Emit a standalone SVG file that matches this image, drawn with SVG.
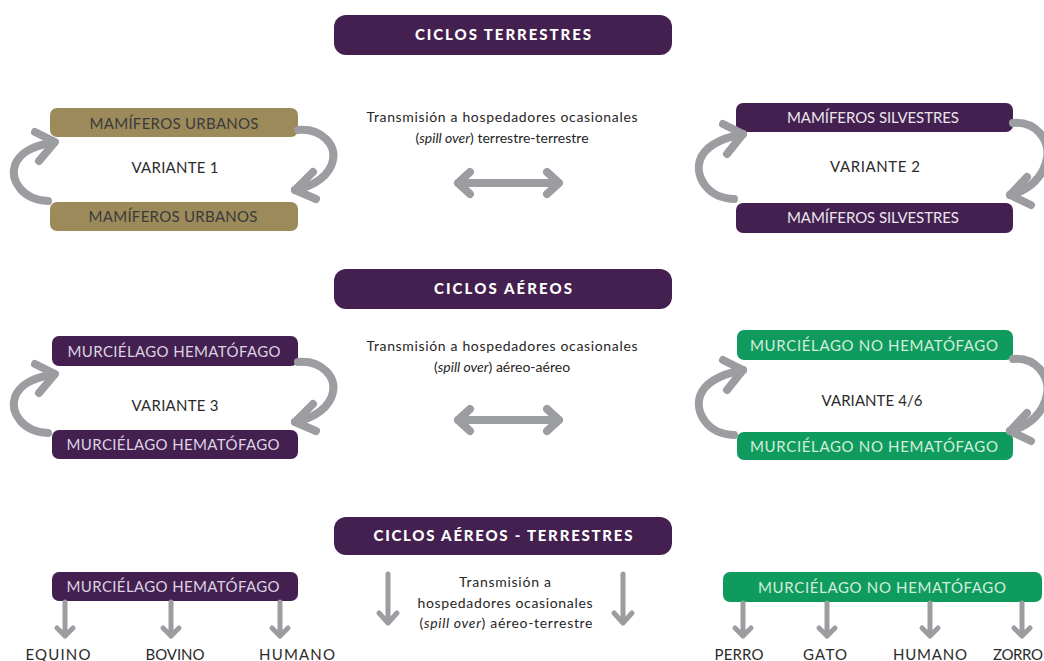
<svg xmlns="http://www.w3.org/2000/svg" width="1044" height="661" viewBox="0 0 1044 661">
<defs>
<style>
text{font-family:Lato,"Open Sans","Liberation Sans",sans-serif;font-size:14px;text-anchor:middle}
.title rect{fill:#43204f}
.title text{fill:#ffffff;font-weight:900;font-size:15px}
.olive rect{fill:#9c8a5b}
.olive text{fill:#3a3a3a;font-size:15px}
.purple rect{fill:#43204f}
.purple text{fill:#ddd3e2;font-size:15px}
.green rect{fill:#109b5e}
.green text{fill:#d3eedc;font-size:15px}
.lbl{fill:#2b2b2b;font-size:15px}
.host{fill:#2b2b2b;font-size:15px}
.mid{fill:#262626}
.arr{fill:none;stroke:#9c9da1;stroke-width:8;stroke-linecap:round;stroke-linejoin:round}
.arr2{fill:none;stroke:#9c9da1;stroke-width:5;stroke-linecap:round;stroke-linejoin:round}
</style>
</defs>
<rect width="1044" height="661" fill="#ffffff"/>

<g id="title-terrestres" class="title"><rect x="334" y="15" width="338" height="40" rx="12"/><text x="503" y="40" textLength="176">CICLOS TERRESTRES</text></g>
<g id="title-aereos" class="title"><rect x="334" y="269" width="338" height="40" rx="12"/><text x="503" y="294" textLength="138">CICLOS AÉREOS</text></g>
<g id="title-aereos-terrestres" class="title"><rect x="334" y="517" width="338" height="38" rx="12"/><text x="503" y="541" textLength="259">CICLOS AÉREOS - TERRESTRES</text></g>

<g id="urbanos-top" class="olive"><rect x="50" y="108" width="248" height="29" rx="7"/><text x="174" y="129" textLength="169">MAMÍFEROS URBANOS</text></g>
<g id="urbanos-bottom" class="olive"><rect x="50" y="202" width="248" height="29" rx="7"/><text x="173" y="222" textLength="169">MAMÍFEROS URBANOS</text></g>
<g id="variante1"><text class="lbl" x="175" y="173" textLength="87">VARIANTE 1</text></g>

<g id="silvestres-top" class="purple"><rect x="736" y="103" width="277" height="29" rx="7"/><text x="873" y="123" textLength="172" style="fill:#ece6ee">MAMÍFEROS SILVESTRES</text></g>
<g id="silvestres-bottom" class="purple"><rect x="736" y="203" width="277" height="30" rx="7"/><text x="873" y="223" textLength="172" style="fill:#ece6ee">MAMÍFEROS SILVESTRES</text></g>
<g id="variante2"><text class="lbl" x="875" y="172" textLength="90">VARIANTE 2</text></g>

<g id="hemat-top" class="purple"><rect x="52" y="336" width="246" height="30" rx="7"/><text x="174" y="357" textLength="213">MURCIÉLAGO HEMATÓFAGO</text></g>
<g id="hemat-bottom" class="purple"><rect x="52" y="430" width="246" height="29" rx="7"/><text x="173" y="450" textLength="213">MURCIÉLAGO HEMATÓFAGO</text></g>
<g id="variante3"><text class="lbl" x="175" y="411" textLength="87">VARIANTE 3</text></g>

<g id="nohemat-top" class="green"><rect x="737" y="330" width="276" height="30" rx="7"/><text x="874" y="351" textLength="248">MURCIÉLAGO NO HEMATÓFAGO</text></g>
<g id="nohemat-bottom" class="green"><rect x="737" y="432" width="276" height="28" rx="7"/><text x="874" y="452" textLength="248">MURCIÉLAGO NO HEMATÓFAGO</text></g>
<g id="variante46"><text class="lbl" x="872" y="406" textLength="101">VARIANTE 4/6</text></g>

<g id="hemat-row3" class="purple"><rect x="52" y="572" width="246" height="29" rx="7"/><text x="173" y="592" textLength="213">MURCIÉLAGO HEMATÓFAGO</text></g>
<g id="nohemat-row3" class="green"><rect x="723" y="572" width="319" height="30" rx="7"/><text x="882" y="593" textLength="248">MURCIÉLAGO NO HEMATÓFAGO</text></g>

<g id="spill-tt"><text class="mid" x="502" y="122" textLength="271">Transmisión a hospedadores ocasionales</text><text class="mid" x="502" y="143">(<tspan font-style="italic">spill over</tspan>) terrestre-terrestre</text></g>
<g id="spill-aa"><text class="mid" x="502" y="351" textLength="271">Transmisión a hospedadores ocasionales</text><text class="mid" x="502" y="372">(<tspan font-style="italic">spill over</tspan>) aéreo-aéreo</text></g>
<g id="spill-at"><text class="mid" x="505" y="587" textLength="92">Transmisión a</text><text class="mid" x="505" y="608" textLength="175">hospedadores ocasionales</text><text class="mid" x="506" y="628" textLength="173">(<tspan font-style="italic">spill over</tspan>) aéreo-terrestre</text></g>

<g id="hosts-left">
<text class="host" x="58" y="660" textLength="65">EQUINO</text>
<text class="host" x="175" y="660" textLength="59">BOVINO</text>
<text class="host" x="297" y="660" textLength="76">HUMANO</text>
</g>
<g id="hosts-right">
<text class="host" x="739" y="660" textLength="49">PERRO</text>
<text class="host" x="825" y="660" textLength="44">GATO</text>
<text class="host" x="930" y="660" textLength="74">HUMANO</text>
<text class="host" x="993" y="660" textLength="50" style="text-anchor:start">ZORRO</text>
</g>

<g id="connectors">
<g id="cycleA">
<path class="arr" d="M48,201 C22,200 10,180 15,165 C20,152 33,146 54,142"/>
<path class="arr" d="M35,132 L55,142 L39,161"/>
<path class="arr" d="M298,130 C322,128 336,145 333,160 C330,175 315,186 295,190"/>
<path class="arr" d="M313,172 L295,190 L316,199"/>
</g>
<g id="cycleC" transform="translate(0,232)">
<path class="arr" d="M48,201 C22,200 10,180 15,165 C20,152 33,146 54,142"/>
<path class="arr" d="M35,132 L55,142 L39,161"/>
<path class="arr" d="M298,130 C322,128 336,145 333,160 C330,175 315,186 295,190"/>
<path class="arr" d="M313,172 L295,190 L316,199"/>
</g>
<g id="cycleB">
<path class="arr" d="M734,199 C706,198 695,175 700,160 C705,146 722,138 743,134"/>
<path class="arr" d="M723,124 L743,134 L727,154"/>
<path class="arr" d="M1013,123 C1036,121 1050,140 1047,158 C1044,176 1030,190 1010,195"/>
<path class="arr" d="M1027,177 L1010,195 L1031,205"/>
</g>
<g id="cycleD" transform="translate(0,236)">
<path class="arr" d="M734,199 C706,198 695,175 700,160 C705,146 722,138 743,134"/>
<path class="arr" d="M723,124 L743,134 L727,154"/>
<path class="arr" d="M1013,123 C1036,121 1050,140 1047,158 C1044,176 1030,190 1010,195"/>
<path class="arr" d="M1027,177 L1010,195 L1031,205"/>
</g>
<path class="arr" d="M458,183 L559,183 M470,172 L458,183 L470,194 M547,172 L559,183 L547,194"/>
<path class="arr" d="M458,420 L559,420 M470,409 L458,420 L470,431 M547,409 L559,420 L547,431"/>
<path class="arr2" d="M388,574 L388,623 M379,613 L388,623 L397,613"/>
<path class="arr2" d="M623,574 L623,623 M614,613 L623,623 L632,613"/>
<path class="arr2" d="M65,602 L65,636 M57,628 L65,636 L73,628"/>
<path class="arr2" d="M171,602 L171,636 M163,628 L171,636 L179,628"/>
<path class="arr2" d="M280,602 L280,636 M272,628 L280,636 L288,628"/>
<path class="arr2" d="M743,603 L743,636 M735,628 L743,636 L751,628"/>
<path class="arr2" d="M827,603 L827,636 M819,628 L827,636 L835,628"/>
<path class="arr2" d="M930,603 L930,636 M922,628 L930,636 L938,628"/>
<path class="arr2" d="M1022,603 L1022,636 M1014,628 L1022,636 L1030,628"/>
</g>
</svg>
